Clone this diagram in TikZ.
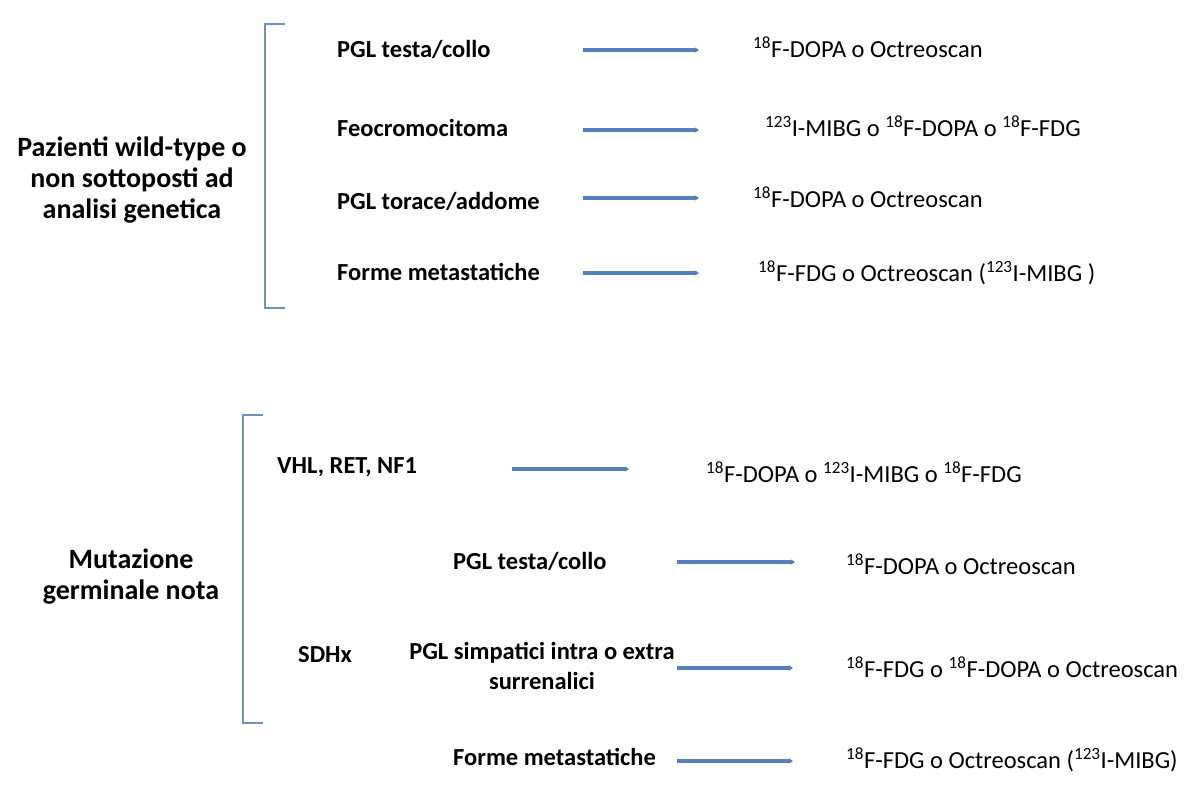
\documentclass[tikz,border=0pt]{standalone}
\usepackage{fontspec}
\setmainfont{Carlito}
\usetikzlibrary{arrows.meta}
\definecolor{brkblue}{RGB}{110,145,195}
\definecolor{arrblue}{RGB}{85,128,190}
\tikzset{
	grp/.style={font=\bfseries\fontsize{28}{31}\selectfont, align=center},
	item/.style={font=\bfseries\fontsize{24.5}{30}\selectfont, anchor=west, align=center, inner sep=0pt},
	exam/.style={font=\fontsize{24.5}{28}\selectfont, anchor=west, inner sep=0pt},
	arr/.style={arrblue, line width=3.8pt, -{Triangle[length=4pt,width=5pt]}},
	brk/.style={brkblue, line width=2.2pt}
}
\newcommand{\iso}[1]{\textsuperscript{#1}}
\begin{document}
\begin{tikzpicture}[x=1pt, y=-1pt]
	\useasboundingbox (0,0) rectangle (1186,801);

	% --- upper group: patients without known mutation ---
	\node[grp] (wild) at (132,180) {Pazienti wild-type o\\non sottoposti ad\\analisi genetica};
	\draw[brk] (285,24) -- (265,24) -- (265,308) -- (285,308);

	\node[item] (u1) at (337,49)  {PGL testa/collo};
	\node[item] (u2) at (337,128) {Feocromocitoma};
	\node[item] (u3) at (337,201) {PGL torace/addome};
	\node[item] (u4) at (337,272) {Forme metastatiche};

	\node[exam] (e1) at (753,47)  {\iso{18}F-DOPA o Octreoscan};
	\node[exam] (e2) at (765,126) {\iso{123}I-MIBG o \iso{18}F-DOPA o \iso{18}F-FDG};
	\node[exam] (e3) at (753,197) {\iso{18}F-DOPA o Octreoscan};
	\node[exam] (e4) at (758,273) {\iso{18}F-FDG o Octreoscan (\iso{123}I-MIBG )};

	% --- upper arrows ---
	\foreach \n/\yy in {1/50, 2/130, 3/198, 4/273} {
		\coordinate (ua\n) at (583,\yy);
		\coordinate (ub\n) at (699,\yy);
		\draw[arr] (ua\n) -- (ub\n);
	}

	% --- lower group: known germline mutation ---
	\node[grp] (germ) at (131,577) {Mutazione\\germinale nota};
	\draw[brk] (263,415) -- (243,415) -- (243,723) -- (263,723);

	\node[item] (l1) at (277,467) {VHL, RET, NF1};
	\node[item] (sdh) at (298,655) {SDHx};
	\node[item] (l2) at (453,561) {PGL testa/collo};
	\node[item, anchor=center] (l3) at (542,666) {PGL simpatici intra o extra\\surrenalici};
	\node[item] (l4) at (453,757) {Forme metastatiche};

	\node[exam] (f1) at (706,472) {\iso{18}F-DOPA o \iso{123}I-MIBG o \iso{18}F-FDG};
	\node[exam] (f2) at (846,564) {\iso{18}F-DOPA o Octreoscan};
	\node[exam] (f3) at (846,667) {\iso{18}F-FDG o \iso{18}F-DOPA o Octreoscan};
	\node[exam] (f4) at (846,760) {\iso{18}F-FDG o Octreoscan (\iso{123}I-MIBG)};

	% --- lower arrows ---
	\foreach \n/\xa/\xb/\yy in {1/512/629/469, 2/677/795/562, 3/677/793/668, 4/677/793/761} {
		\coordinate (la\n) at (\xa,\yy);
		\coordinate (lb\n) at (\xb,\yy);
		\draw[arr] (la\n) -- (lb\n);
	}
\end{tikzpicture}
\end{document}
